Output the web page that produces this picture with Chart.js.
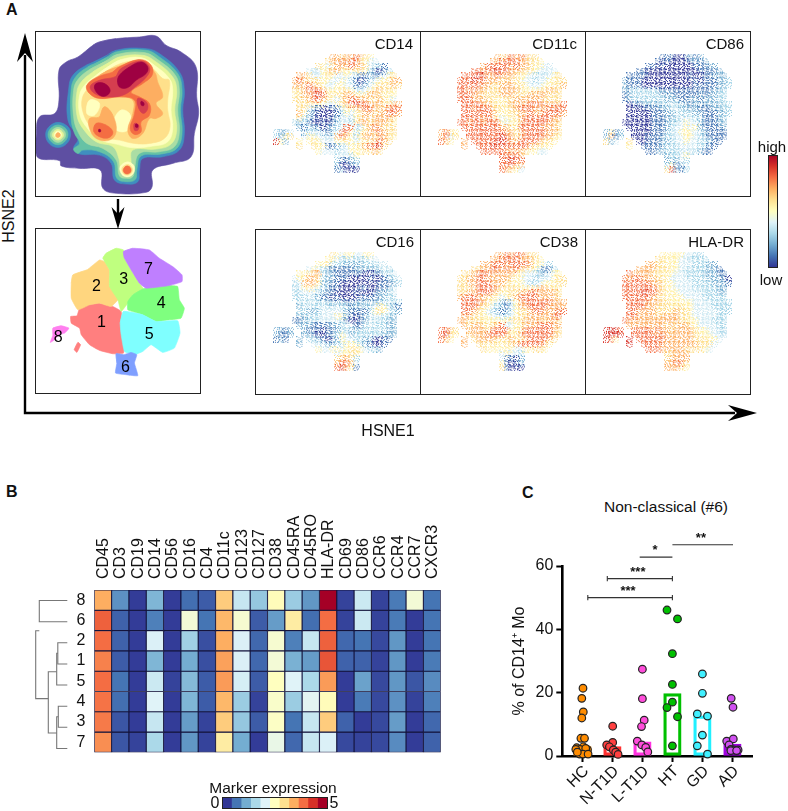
<!DOCTYPE html>
<html>
<head>
<meta charset="utf-8">
<title>HSNE monocyte clusters</title>
<script src="https://cdn.jsdelivr.net/npm/chart.js@4/dist/chart.umd.min.js"></script>
<style>
  html, body { margin:0; padding:0; background:#fff; overflow:hidden; }
  #page { position:relative; width:788px; height:811px; font-family:"Liberation Sans", Arial, sans-serif; color:#111; }
  canvas { position:absolute; }
  .frame { position:absolute; border:1.5px solid #222; box-sizing:border-box; pointer-events:none; }
  .txt { position:absolute; white-space:nowrap; line-height:1; }
  svg { position:absolute; left:0; top:0; }
</style>
</head>
<body>
<div id="page">
  <svg width="788" height="811">
    <path d="M25 55V413H735" fill="none" stroke="#000" stroke-width="2.4"/>
    <path d="M25 33L33 62L25 53L17 62Z" fill="#000"/>
    <path d="M757 413L728 405L737 413L728 421Z" fill="#000"/>
    <path d="M118 199V218" fill="none" stroke="#000" stroke-width="2.4"/>
    <path d="M118 229L111.5 207L118 214L124.5 207Z" fill="#000"/>
  </svg>
</div>
<script>
// ===== data =====
// density map: closed contour rings, in picture units of the first panel
const ringPurple = [[300,125],[350,115],[420,110],[470,107],[500,135],[545,155],[590,200],[592,290],[598,340],[585,400],[575,470],[520,490],[460,510],[458,560],[440,577],[350,580],[310,565],[302,510],[240,505],[185,498],[180,482],[112,470],[110,400],[120,350],[165,340],[178,300],[178,210],[200,185],[235,170],[280,135]];
const ringBlue = [[300,180],[350,150],[440,145],[480,160],[540,215],[555,270],[550,330],[555,400],[540,450],[490,470],[430,475],[420,510],[415,545],[380,552],[345,540],[335,490],[300,465],[240,462],[222,445],[235,415],[205,360],[208,260],[220,225],[260,195]];
const ringBlueIsle = [[175,367],[205,380],[213,405],[200,432],[175,442],[150,432],[138,405],[148,380]];
const ringTeal = [[310,180],[350,155],[440,150],[480,170],[535,220],[548,270],[543,330],[548,400],[532,445],[485,462],[425,468],[412,510],[408,538],[380,545],[352,535],[342,485],[300,455],[250,450],[235,460],[222,447],[240,430],[225,400],[215,360],[215,265],[228,230],[265,200]];
const ringTealIsle = [[175,375],[198,385],[205,405],[195,425],[175,434],[155,425],[145,405],[153,385]];
const ringGreen = [[315,185],[355,162],[435,157],[475,178],[528,225],[540,270],[535,330],[540,395],[525,440],[480,455],[420,460],[405,505],[400,530],[380,535],[360,528],[350,480],[310,445],[262,430],[235,395],[222,350],[222,270],[235,238],[270,208]];
const ringGreenIsle = [[175,382],[192,390],[198,405],[190,420],[175,427],[160,420],[152,405],[158,390]];
const ringLime = [[320,192],[360,170],[430,165],[470,185],[520,230],[532,270],[526,330],[532,390],[515,432],[470,447],[400,450],[395,490],[398,515],[380,525],[365,515],[358,475],[340,440],[290,425],[250,385],[232,345],[232,275],[245,245],[280,215]];
const ringLimeIsle = [[175,388],[187,394],[192,405],[186,415],[175,420],[164,415],[158,405],[163,394]];
const ringPale = [[325,200],[365,178],[425,172],[465,195],[510,235],[520,270],[515,330],[520,385],[505,425],[460,438],[400,443],[350,432],[300,418],[260,380],[240,340],[240,285],[255,255],[290,225]];
const ringPaleNub = [[383,486],[402,495],[405,512],[395,527],[378,530],[365,520],[362,500]];
const ringPaleIsle = [[175,393],[183,397],[186,405],[182,412],[175,415],[168,412],[164,405],[167,397]];
const ringSand = [[325,210],[370,188],[420,183],[460,205],[490,235],[510,240],[505,300],[505,330],[512,380],[495,415],[450,430],[405,430],[360,420],[310,410],[270,375],[250,335],[248,295],[265,265],[295,235]];
const ringSandNub = [[383,494],[395,499],[399,511],[393,522],[380,525],[370,518],[368,503]];
const ringSandIsle = [[175,398],[181,401],[182,406],[179,411],[175,412],[170,411],[168,406],[170,401]];
const patchCentre = [[365,330],[390,340],[395,375],[375,395],[345,385],[345,355]];
const patchLeft = [[270,300],[300,310],[285,345],[262,340]];
const ringOrange = [[340,205],[420,183],[465,215],[475,245],[490,290],[470,310],[490,340],[470,355],[450,355],[430,400],[400,415],[385,390],[400,340],[400,300],[360,290],[310,295],[270,280],[262,255],[300,225]];
const ringOrangeLow = [[315,320],[340,345],[350,395],[330,420],[290,415],[270,385],[270,355],[300,350]];
const ringRedOrange = [[360,200],[420,178],[455,195],[458,225],[430,250],[395,275],[420,290],[450,310],[450,345],[425,365],[425,395],[405,403],[392,385],[405,340],[405,300],[360,290],[300,295],[270,280],[262,255],[300,228],[340,215]];
const ringRedOrangeLow = [[290,370],[320,375],[340,395],[330,412],[305,412],[283,395]];
const ringRedOrangeNub = [[383,498],[392,502],[395,511],[391,519],[382,522],[374,518],[371,510],[375,502]];
const ringCrimson = [[365,205],[425,182],[450,200],[445,225],[405,262],[370,285],[320,290],[285,280],[272,258],[300,240],[350,228]];
const ringCrimsonMid = [[415,295],[440,305],[445,325],[432,340],[418,325]];
const ringCrimsonLow = [[405,370],[418,375],[415,390],[405,390]];
const ringDark = [[360,225],[390,200],[425,185],[445,200],[440,220],[410,240],[385,262],[362,262],[354,245]];
const ringDarkLeft = [[290,250],[315,250],[332,270],[320,287],[300,285],[285,265]];
const ringDarkMid = [[425,304],[433,308],[433,316],[426,315]];
const ringDarkLow = [[409,372],[415,374],[415,381],[409,381]];
const ringDarkDot = [[298,388],[303,389],[303,395],[298,395]];
// [contour level, ring]
const densityLevels = [
  [0,ringPurple],[1,ringBlue],[1,ringBlueIsle],[2,ringTeal],[2,ringTealIsle],[3,ringGreen],[3,ringGreenIsle],
  [4,ringLime],[4,ringLimeIsle],[5,ringPale],[5,ringPaleNub],[5,ringPaleIsle],[6,ringSand],[6,ringSandNub],[7,ringSandIsle],
  [5,patchCentre],[5,patchLeft],[7,ringOrange],[7,ringOrangeLow],[8,ringRedOrange],[8,ringRedOrangeLow],[8,ringRedOrangeNub],
  [9,ringCrimson],[9,ringCrimsonMid],[9,ringCrimsonLow],[10,ringDark],[10,ringDarkLeft],[10,ringDarkMid],[10,ringDarkLow],[10,ringDarkDot]
];

// cluster map outlines
const cluster1 = [[270,255],[300,250],[340,260],[365,275],[368,340],[375,345],[372,400],[340,402],[300,392],[270,375],[245,345],[240,325],[215,310],[213,290],[232,288],[240,265]];
const cluster1b = [[235,368],[243,375],[232,398],[224,390]];
const cluster2 = [[220,165],[262,150],[300,120],[315,125],[330,150],[330,200],[358,235],[335,260],[300,250],[270,255],[235,270],[215,235],[215,190]];
const cluster3 = [[320,100],[350,85],[372,90],[375,115],[395,150],[420,190],[432,208],[400,225],[385,250],[365,275],[355,240],[330,200],[330,150],[310,115]];
const cluster4 = [[432,207],[510,197],[535,200],[540,240],[555,265],[545,295],[510,300],[470,305],[430,285],[385,270],[385,245],[400,225]];
const cluster5 = [[372,275],[430,285],[470,305],[535,303],[542,340],[525,385],[490,398],[455,375],[430,395],[405,405],[375,395],[365,345],[362,310]];
const cluster6 = [[350,402],[372,405],[395,398],[412,405],[405,430],[415,468],[380,465],[348,460],[352,430]];
const cluster7 = [[372,95],[400,85],[450,90],[480,115],[520,140],[548,165],[548,185],[510,197],[440,205],[420,190],[395,150],[375,115]];
const cluster8 = [[160,325],[185,318],[208,325],[195,340],[178,345],[165,360],[152,368],[160,345]];
const clusterShapes = [[0,cluster1],[0,cluster1b],[1,cluster2],[2,cluster3],[3,cluster4],[4,cluster5],[5,cluster6],[6,cluster7],[7,cluster8]];
const clusterNames = ['1','2','3','4','5','6','7','8'];
const clusterLabelX = [306,291,373,485,449,378,447,176];
const clusterLabelY = [308,200,178,250,343,443,150,352];

// marker maps: expression level 0-9 read per 5-unit cell, row by row, from the first filled column
const rowStart = [15,14,12,10,8,7,7,7,7,7,8,8,8,8,7,8,3,3,3,8,12,16,16,16,16];
const cd14Rows = ["776778765","67787886544","654677787764321","434567765566531013","776445654454311212456","78766655445431013455677","77787654455441124566676","6678887555665434567665","5677898656677656776555","6667887654678877667654","6666554456789887776677","6642100113556788767888","7521000013545677677887","632100012443567677776","3231001013443677677765","213210123488436787666","3224..23342134885356778766","3256..45544347865367767765","952..5.565444556545667876","6..6551123455678896","54443445556676","44435","31123","20012","13000"];
const cd11cRows = ["767878766","77888877665","788888787765544","887889887776654444","888987787776554343456","88898877767665443445566","88888776677766544455667","8878776667777655566776","8887766667776667777666","8887776655667777776666","8888776556777788877778","8878887665678887778888","8888887555667787788887","888878754556788888877","8878878885455788888776","888888887756888887776","7865..88888888775788888776","7846..88888889876788887765","875..7.888889987788887665","7..8889888888876655","88888777765544","88887","88988","88877","87654"];
const cd86Rows = ["111001212","10100001212","110100000011122","110000000000011112","111100000000010011222","21110000000000010111223","21110000000000011111223","2233333211111111111223","1233433322211111212233","1233333332221122122233","0112222334322122222233","0000111223432221112233","0000011122433322111223","000001112233443311123","0000001112334544211122","000001112344545211112","2512..00001113345554321111","2713..00011123344554321111","624..6.001112234454433211","5..1111233344443311","11223333433211","23345","23243","35124","69213"];
const cd16Rows = ["654554455","55433333344","556333222233344","454321111122222343","556773221111110011334","45677632211100001001234","34777522110000000011123","3456543211000011001124","3344432110000100012234","3334321101000011112233","3434332222112222223433","2343343343322233455321","3322344444211113565432","223334445521012344332","1123344444310012443322","222111122344113433322","2212..21110112332233334322","2112..22100123542333333222","121..2.332101254433220011","2..4432233555321001","54455456654332","45566","67763","78874","89751"];
const cd38Rows = ["778788766","77888877765","778887888875543","667788787876653113","667888777776544322455","66778877777655443344566","66778887776555433455566","6667888876666556677665","6677888765566778877776","7888776654567888877776","8888765421457888888777","8887654321357788887777","8876543212456678877788","776655443345667777788","7766655555566677776776","767766678445577788877","8876..77776888856688888876","8965..67778888756788888876","875..7.677776667667888876","7..6656556678888875","65555554455665","45443","41102","51012","61000"];
const hladrRows = ["555554433","66555443333","776655544433322","777766655443333221","877776655544333322211","87887776654444333322210","88888877655444433332221","8888888765544443333322","8888988765554444433322","8888887665555444433333","8888777665555544443333","8888776665665544443333","8877776666766544444333","887777677776654444433","8777777777776655444333","777777776767765444433","9998..88887877677776554433","9999..88888787777776555443","985..9.888888777777666554","9..8888777777776664","88877777666654","66777","67777","77886","77765"];

// heatmap
const heatMarkers = ['CD45','CD3','CD19','CD14','CD56','CD16','CD4','CD11c','CD123','CD127','CD38','CD45RA','CD45RO','HLA-DR','CD69','CD86','CCR6','CCR4','CCR7','CXCR3'];
const heatRows = ['8','6','2','1','5','4','3','7'];
const heat8 = [3.5,.75,.05,1.1,.05,.45,.3,3.2,1.75,1.3,2.55,1.35,.8,5,.1,1.8,.1,.55,2.3,.5];
const heat6 = [4.1,.35,.05,.6,.05,2.3,.5,3.4,2.35,.3,.85,2.8,.45,4,.1,1.8,.1,.55,.05,.5];
const heat2 = [4,.35,.05,1.95,.05,1.4,.2,3.5,1.95,.4,2.35,.6,1.75,4.1,.4,.5,.15,.8,.05,.5];
const heat1 = [3.85,.3,.05,1.1,.05,1,.2,3.6,1.95,.4,2.3,1.05,.85,4.2,.35,.35,.1,.8,.05,.55];
const heat5 = [4,.5,.05,1.8,.1,1.15,.3,3.65,1.9,.3,2.5,2,1.5,3.65,.05,.9,.15,.8,.25,.7];
const heat4 = [3.95,.45,.05,2,.05,1.1,.3,3.4,1.35,.1,2.4,1.35,2.05,2.55,.05,.55,.15,.75,.1,.6];
const heat3 = [3.9,.25,.05,1.75,.05,.85,.1,3.2,1.3,.3,2.45,.5,1.75,3.2,.35,.05,.15,.85,.05,.4];
const heat7 = [3.75,.25,.1,1.5,.05,.8,.1,2.8,1,.05,2.15,.4,1.75,1.95,.15,.1,.15,.7,.05,.35];
const heatValues = [heat8,heat6,heat2,heat1,heat5,heat4,heat3,heat7];

// dendrogram paths: [merge distance, row position]
const dendroPaths = [
  [[67.3,.5],[39.3,.5],[39.3,1.5],[67.3,1.5]],
  [[39.3,1.93],[35.7,1.93],[35.7,5.14],[48.3,5.14]],
  [[56.7,3.87],[48.3,3.87],[48.3,6.77],[56.7,6.77]],
  [[57.8,3],[56.7,3],[56.7,4.5],[67.3,4.5]],
  [[67.3,2.5],[57.8,2.5],[57.8,3.5],[67.3,3.5]],
  [[58.3,6],[56.7,6],[56.7,7.5],[67.3,7.5]],
  [[67.3,5.5],[58.3,5.5],[58.3,6.5],[67.3,6.5]]
];

// panel C
const groups = ['HC','N-T1D','L-T1D','HT','GD','AD'];
const groupMeans = [3,3,4.5,19.7,12.7,3.8];
const hcX = [.02,-.02,.03,-.02,-.05,.07,-.19,.03,-.08,.17,-.22,.11,-.09,.02,.19,-.17];
const hcY = [21.4,18.2,13.9,12,5.6,5.6,2.6,2.9,2.1,2,2.1,2.4,.6,.6,.6,1.2];
const ntX = [.01,.01,-.19,-.1,.03,.11,.19];
const ntY = [9.4,4.3,3.5,2.9,1.9,1.2,.5];
const ltX = [0,0,.06,-.03,-.17,-.02,.11,.18];
const ltY = [27.4,18.1,11.3,9.3,4.7,3.5,2.7,1.3];
const htX = [-.18,.17,0,0,0,-.18,.17,0];
const htY = [46.1,43.3,32.3,22.6,17,15.3,12.4,3.2];
const gdX = [0,0,-.17,.17,0,-.17,.17];
const gdY = [25.9,19.8,13.3,12.6,6.6,3.2,.6];
const adX = [-.04,.02,-.19,.03,-.11,-.05,.06,.19,-.05,.14];
const adY = [18.2,15.4,4.7,5.4,3.5,2.1,1.9,1.9,1.7,1.7];
const groupX = [hcX,ntX,ltX,htX,gdX,adX];
const groupY = [hcY,ntY,ltY,htY,gdY,adY];
const sigFrom = [.18,.83,1.91,3];
const sigTo = [3,3,3,5.02];
const sigLevel = [50,56,62.8,66.7];
const sigStars = ['***','***','*','**'];
const sigStarX = [1.52,1.85,2.42,3.95];

// ===== styles =====
const densityColors = ['#5E4FA2','#3F8FBF','#66C2A5','#ABDDA4','#E6F598','#FFFFBF','#FEE08B','#FDAE61','#F46D43','#D53E4F','#9E0142'];
const clusterColors = ['#FF7F7F','#FFD67F','#BFFF7F','#7FFF7F','#7FFFFF','#7F9FFF','#BF7FFF','#FF7FEF'];
const heatPalette = ['#313695','#4575B4','#74ADD1','#ABD9E9','#E0F3F8','#FFFFBF','#FEE090','#FDAE61','#F46D43','#D73027','#A50026'];
const levelColors = ['#313695','#4575B4','#74ADD1','#9FD2E6','#CFE9F2','#FFEFA0','#FEDC85','#FDAE61','#F46D43','#D73027'];
const groupColors = ['#FF8C00','#FF4040','#FF4DDB','#00C000','#40F0FF','#D050F0'];
const barColors = ['#FF8C00','#FF3030','#FF30E0','#00C000','#20F0FF','#A000E0'];
const FONT = '"Liberation Sans", Arial, sans-serif';
Chart.defaults.font.family = FONT;
Chart.defaults.color = '#111';
Chart.defaults.animation = false;
Chart.defaults.responsive = false;
Chart.defaults.plugins.legend.display = false;
Chart.defaults.plugins.tooltip.enabled = false;

// ===== helpers =====
const page = document.getElementById('page');
function addCanvas(left, top, w, h) {
    const c = document.createElement('canvas');
    c.width = w; c.height = h;
    c.style.left = left + 'px'; c.style.top = top + 'px';
    c.style.width = w + 'px'; c.style.height = h + 'px';
    page.appendChild(c);
    return c;
}
function addFrame(left, top, w, h) {
    const d = document.createElement('div');
    d.className = 'frame';
    d.style.cssText = `left:${left}px;top:${top}px;width:${w}px;height:${h}px`;
    page.appendChild(d);
}
// x,y = where the text is anchored; align: left | right | center
function addText(text, x, y, size, align, extra) {
    const d = document.createElement('div');
    d.className = 'txt';
    d.textContent = text;
    const shift = align === 'right' ? '-100%' : align === 'center' ? '-50%' : '0';
    d.style.cssText = `left:${x}px;top:${y}px;font-size:${size}px;transform:translate(${shift},-50%) ${extra || ''}`;
    page.appendChild(d);
    return d;
}
function hex2rgb(h) { return [1,3,5].map(i => parseInt(h.substr(i,2),16)); }
function heatColor(v) {
    const p = Math.max(0, Math.min(10, v * 2)), i = Math.min(9, Math.floor(p)), f = p - i;
    const a = hex2rgb(heatPalette[i]), b = hex2rgb(heatPalette[i+1]);
    return `rgb(${a.map((c,k)=>Math.round(c+(b[k]-c)*f)).join(',')})`;
}
const hiddenAxes = (xmin, xmax, ymin, ymax) => ({
    x:{type:'linear',display:false,min:xmin,max:xmax},
    y:{type:'linear',display:false,min:ymin,max:ymax,reverse:true}
});

// fills closed rings, the line itself only gives the outline
const ringFill = {
    id:'ringFill',
    beforeDatasetDraw(chart, args) {
        const meta = chart.getDatasetMeta(args.index);
        if (!meta.dataset || !meta.dataset.points.length) return;
        const p = new Path2D();
        meta.dataset.path(p);
        p.closePath();
        chart.ctx.fillStyle = chart.data.datasets[args.index].backgroundColor;
        chart.ctx.fill(p);
    }
};
function ringDataset(ring, color, tension) {
    // wraps round the start so the curve has no corner where it closes
    const loop = [ring[ring.length-1]].concat(ring, [ring[0], ring[1]]);
    return {
        data: loop.map(p => ({x:p[0], y:p[1]})),
        showLine:true, pointRadius:0, tension:tension,
        borderColor:color, borderWidth:.6, backgroundColor:color
    };
}

// ===== panel A: density =====
new Chart(addCanvas(35,31,165,165), {
    type:'scatter',
    // first dataset is painted last
    data:{datasets: densityLevels.map(l => ringDataset(l[1], densityColors[l[0]], .4)).reverse()},
    options:{scales:hiddenAxes(106,602,92,588)},
    plugins:[ringFill]
});
addFrame(35,31,166,165.5);

// ===== panel A: clusters =====
new Chart(addCanvas(35,228,165,165), {
    type:'scatter',
    data:{datasets: clusterShapes.map(s => ringDataset(s[1], clusterColors[s[0]], .12)).reverse()},
    options:{scales:hiddenAxes(106,602,24,520)},
    plugins:[ringFill, {
        id:'clusterNames',
        afterDatasetsDraw(chart) {
            const ctx = chart.ctx;
            ctx.save();
            ctx.fillStyle = '#000';
            ctx.font = '16px ' + FONT;
            ctx.textAlign = 'center'; ctx.textBaseline = 'middle';
            clusterNames.forEach((n,i) => ctx.fillText(n, chart.scales.x.getPixelForValue(clusterLabelX[i]), chart.scales.y.getPixelForValue(clusterLabelY[i])));
            ctx.restore();
        }
    }]
});
addFrame(35,228,166,165.5);

// ===== panel A: marker maps =====
const stipples = [
    ['1001000','0000101','0100000','0001010','1000001','0010100','0100010'],
    ['0010010','1000000','0001001','0100100','0000010','1010000','0001001'],
    ['0100001','0001000','1000100','0010001','0100000','0001010','1000100'],
    ['0001000','0100010','0000001','1010000','0000101','0100000','0010011'],
    ['1000010','0010000','0000101','0101000','1000010','0000100','0110000'],
    ['0000100','1001000','0010010','0000001','0110000','0000110','1000001']
];
const tileCache = {};
function tile(level, kind) {
    const key = level + '_' + kind;
    if (tileCache[key]) return tileCache[key];
    const c = document.createElement('canvas');
    c.width = c.height = 7;
    const g = c.getContext('2d');
    g.fillStyle = levelColors[level];
    stipples[kind].forEach((row,y) => [...row].forEach((on,x) => { if (on === '1') g.fillRect(x,y,1,1); }));
    return tileCache[key] = c;
}
function markerMap(rows, left, top, name, labelX) {
    const cells = [];
    rows.forEach((row, r) => {
        [...row].forEach((ch, i) => {
            if (ch === '.') return;
            cells.push({x:(rowStart[r]+i)*5+2.5, y:(r+4)*5+2.5, v:+ch, c:rowStart[r]+i, r:r});
        });
    });
    const cv = addCanvas(left, top, 165, 165);
    cv.style.filter = 'blur(.35px)';
    new Chart(cv, {
        type:'scatter',
        data:{datasets:[{
            data:cells, pointRadius:3.5,
            pointStyle: c => c.raw ? tile(c.raw.v, (c.raw.c*5 + c.raw.r*3 + c.raw.c*c.raw.r) % 6) : 'circle',
            // quarter turns keep the stipple from lining up between cells
            rotation: c => c.raw ? 90 * ((c.raw.c*c.raw.r + c.raw.c + c.raw.r*2) % 4) : 0
        }]},
        options:{scales:hiddenAxes(0,165,0,165)}
    });
    addFrame(left, top, 166, 165.5);
    addText(name, labelX, top + 12, 15, 'right');
}
markerMap(cd14Rows, 255, 31, 'CD14', 413);
markerMap(cd11cRows, 420, 31, 'CD11c', 577);
markerMap(cd86Rows, 585, 31, 'CD86', 744);
markerMap(cd16Rows, 255, 229, 'CD16', 414);
markerMap(cd38Rows, 420, 229, 'CD38', 578);
markerMap(hladrRows, 585, 229, 'HLA-DR', 744);

// colour bar
new Chart(addCanvas(768,155,9,112), {
    type:'bar',
    data:{labels:['level'], datasets:[{
        data:[[0,1]], barPercentage:1, categoryPercentage:1, borderWidth:0,
        backgroundColor(c) {
            const a = c.chart.chartArea;
            if (!a) return '#888';
            const g = c.chart.ctx.createLinearGradient(0,a.bottom,0,a.top);
            heatPalette.forEach((col,i) => g.addColorStop(i/10,col));
            return g;
        }
    }]},
    options:{scales:{x:{display:false},y:{display:false,min:0,max:1}}}
});
addFrame(767.5,154.5,10,113);
addText('high',772,145.5,15,'center');
addText('low',771,279,15,'center');

addText('A',6,9.5,16,'left').style.fontWeight = 'bold';
addText('HSNE2',9,216,16,'center','rotate(-90deg)');
addText('HSNE1',388,431,16,'center');

// ===== panel B: heatmap =====
new Chart(addCanvas(60,500,385,263), {
    type:'bar',
    data:{
        labels:heatMarkers,
        datasets:heatValues.map(vals => ({
            data:vals.map(() => 1),
            backgroundColor:vals.map(heatColor),
            borderColor:'#14143c', borderWidth:.9, borderSkipped:false,
            barPercentage:1, categoryPercentage:1
        }))
    },
    options:{
        layout:{padding:{right:4.3,bottom:4.3}},
        scales:{
            x:{position:'top',stacked:true,grid:{display:false},border:{display:false},
               afterFit(s){ s.height = 90; },
               // chart.js pushes rotated top labels one line height to the left
               ticks:{autoSkip:false,minRotation:90,maxRotation:90,padding:3,labelOffset:20,font:{size:16}}},
            y:{stacked:true,min:0,max:8,reverse:true,grid:{display:false},border:{display:false},
               afterFit(s){ s.width = 34.3; },
               afterBuildTicks(s){ s.ticks = heatRows.map((_,i) => ({value:i+.5})); },
               ticks:{padding:1,font:{size:16},callback:(v,i) => heatRows[i]}}
        }
    }
});

// dendrogram, same row scale as the heatmap
new Chart(addCanvas(30,590,40,169), {
    type:'scatter',
    data:{datasets:dendroPaths.map(path => ({
        data:path.map(p => ({x:p[0],y:p[1]})),
        showLine:true, pointRadius:0, borderColor:'#777', borderWidth:1.1
    }))},
    options:{scales:hiddenAxes(30,70,0,8)}
});

// legend strip
new Chart(addCanvas(222,797,105,11), {
    type:'bar',
    data:{labels:['scale'], datasets:heatPalette.map(col => ({
        data:[1], backgroundColor:col, borderWidth:0, barPercentage:1, categoryPercentage:1
    }))},
    options:{indexAxis:'y',scales:{x:{display:false,stacked:true,min:0,max:11},y:{display:false,stacked:true}}}
});
addFrame(221.5,796.5,106,12);
addText('Marker expression',273,788,15.5,'center');
addText('0',215,803,16,'center');
addText('5',334,803,16,'center');
addText('B',6,492,16,'left').style.fontWeight = 'bold';

// ===== panel C =====
const barData = {
    type:'bar', order:3,
    data:groupMeans.map((v,i) => ({x:i,y:v})),
    backgroundColor:['rgba(255,140,0,.85)','rgba(255,48,48,.15)','rgba(255,48,224,.1)','rgba(0,0,0,0)','rgba(0,0,0,0)','rgba(160,0,224,.6)'],
    borderColor:barColors, borderWidth:2.6,
    borderSkipped:false, barThickness:17.5, grouped:false
};
const dotSets = groups.map((g,i) => ({
    type:'scatter', order:1, clip:false,
    data:groupX[i].map((dx,k) => ({x:i+dx, y:groupY[i][k]})),
    pointRadius:3.8, borderWidth:1.2, borderColor:'#222', backgroundColor:groupColors[i]
}));
const sigSets = sigLevel.map((lvl,i) => ({
    type:'scatter', order:2, clip:false, showLine:true,
    data:[{x:sigFrom[i],y:lvl},{x:sigTo[i],y:lvl}],
    borderColor:'#333', borderWidth:1.1, pointStyle:'line', rotation:90, pointRadius:2.6,
    pointBorderColor:'#333', pointBorderWidth:1.1
}));
new Chart(addCanvas(510,520,278,291), {
    data:{datasets:[barData].concat(dotSets, sigSets)},
    options:{
        layout:{padding:{top:46,right:35.5}},
        scales:{
            // bar charts switch offset on by default, that would squeeze the groups
            x:{type:'linear',offset:false,min:-.67,max:5.67,
               afterFit(s){ s.height = 55; },
               afterBuildTicks(s){ s.ticks = groups.map((_,i) => ({value:i})); },
               grid:{offset:false,drawOnChartArea:false,tickLength:6,tickWidth:2,tickColor:'#000'},
               border:{color:'#000',width:2.6},
               ticks:{autoSkip:false,minRotation:45,maxRotation:45,padding:0,labelOffset:4,font:{size:16},callback:(v,i) => groups[i]}},
            y:{min:0,max:60,
               afterFit(s){ s.width = 52.3; },
               grid:{drawOnChartArea:false,tickLength:6,tickWidth:2,tickColor:'#000'},
               border:{color:'#000',width:2.6},
               ticks:{stepSize:20,padding:3,font:{size:16}},
               title:{display:true,text:'% of CD14\u207A Mo',font:{size:16},padding:{top:0,bottom:0}}}
        }
    }
});
addText('Non-classical (#6)',666,507,15.5,'center');
addText('C',522,492.5,16,'left').style.fontWeight = 'bold';
// stars above the comparison brackets
const xPx = v => 582.4 + v * 30, yPx = v => 756 - v * 190 / 60;
sigStars.forEach((s,i) => { addText(s, xPx(sigStarX[i]), yPx(sigLevel[i]) - 8, 13, 'center').style.fontWeight = 'bold'; });
</script>
</body>
</html>
